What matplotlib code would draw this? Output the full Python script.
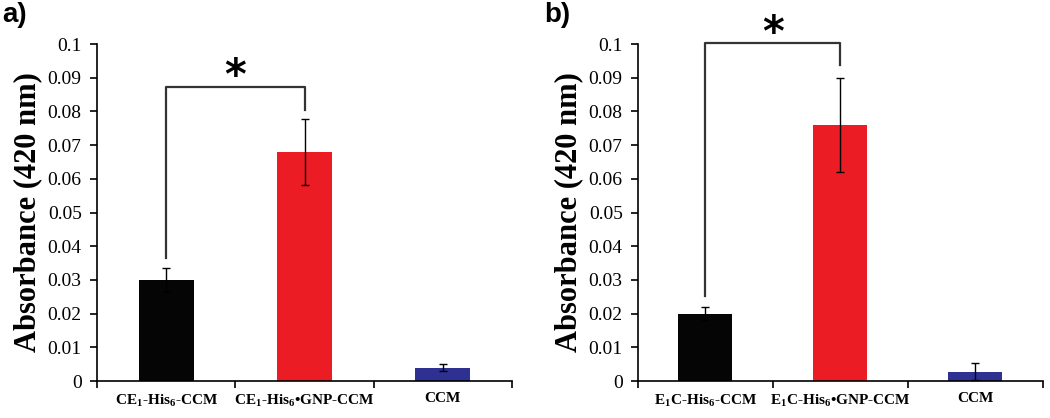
import numpy as np
import matplotlib
matplotlib.use("Agg")
from matplotlib import pyplot as plt

plt.rcParams['font.family'] = ['Liberation Serif', 'DejaVu Serif']
plt.rcParams['mathtext.fontset'] = 'custom'
plt.rcParams['mathtext.rm'] = 'Liberation Serif:bold'
plt.rcParams['mathtext.bf'] = 'Liberation Serif:bold'

# panel a data
labels_a = [r'CE$_{1}$-His$_{6}$-CCM', r'CE$_{1}$-His$_{6}$•GNP-CCM', 'CCM']
values_a = [0.030, 0.068, 0.004]
errors_a = [0.0035, 0.0098, 0.001]

# panel b data
labels_b = [r'E$_{1}$C-His$_{6}$-CCM', r'E$_{1}$C-His$_{6}$•GNP-CCM', 'CCM']
values_b = [0.020, 0.076, 0.0027]
errors_b = [0.002, 0.014, 0.0025]

bar_colors = ['#050505', '#ec1c24', '#2e3192']

# significance brackets: (left x, left foot, right x, right foot, bracket top, star y)
bracket_a = (0, 0.0365, 1, 0.0805, 0.0871, 0.0901)
bracket_b = (0, 0.0252, 1, 0.0938, 0.1003, 0.1031)


def draw_panel(ax, labels, values, errors, bracket):
    x = np.arange(len(values))
    ax.bar(x, values, width=0.4, color=bar_colors, zorder=2)
    ax.errorbar(x, values, yerr=errors, fmt='none', ecolor='black',
                elinewidth=1.0, capsize=3, capthick=1.0, zorder=3)

    ax.set_xlim(-0.5, 2.5)
    ax.set_ylim(0, 0.1)
    ax.set_yticks(np.arange(0, 0.1001, 0.01))
    ax.set_yticklabels(['0'] + ['%.2f' % v for v in np.arange(0.01, 0.0999, 0.01)] + ['0.1'])
    ax.tick_params(axis='y', labelsize=14, length=5, width=1.2, direction='out', pad=6)

    ax.set_xticks(x)
    ax.set_xticklabels(labels, fontsize=11, fontweight='bold')
    ax.tick_params(axis='x', which='major', length=0, pad=8)
    ax.set_xticks([-0.5, 0.5, 1.5, 2.5], minor=True)
    ax.tick_params(axis='x', which='minor', length=5, width=1.2, direction='out')

    for side in ['top', 'right']:
        ax.spines[side].set_visible(False)
    for side in ['left', 'bottom']:
        ax.spines[side].set_linewidth(1.2)

    ax.set_ylabel('Absorbance (420 nm)', fontsize=22, fontweight='bold', labelpad=4)

    x0, y0, x1, y1, top, star_y = bracket
    ax.plot([x0, x0, x1, x1], [y0, top, top, y1], color='#333333', lw=1.6,
            clip_on=False, zorder=4)
    ax.text((x0 + x1) / 2, star_y, '*', ha='center', va='center', fontsize=30,
            fontweight='bold', family='DejaVu Sans', clip_on=False)


fig = plt.figure(figsize=(10.5, 4.18), dpi=100)
ax_a = fig.add_axes([0.0924, 0.0885, 0.3952, 0.8062])
ax_b = fig.add_axes([0.6076, 0.0885, 0.3857, 0.8062])

draw_panel(ax_a, labels_a, values_a, errors_a, bracket_a)
draw_panel(ax_b, labels_b, values_b, errors_b, bracket_b)

fig.text(0.002, 0.995, 'a)', fontsize=20, fontweight='bold', family='Liberation Sans',
         ha='left', va='top')
fig.text(0.518, 0.995, 'b)', fontsize=20, fontweight='bold', family='Liberation Sans',
         ha='left', va='top')

fig.savefig('out.png', dpi=100)
